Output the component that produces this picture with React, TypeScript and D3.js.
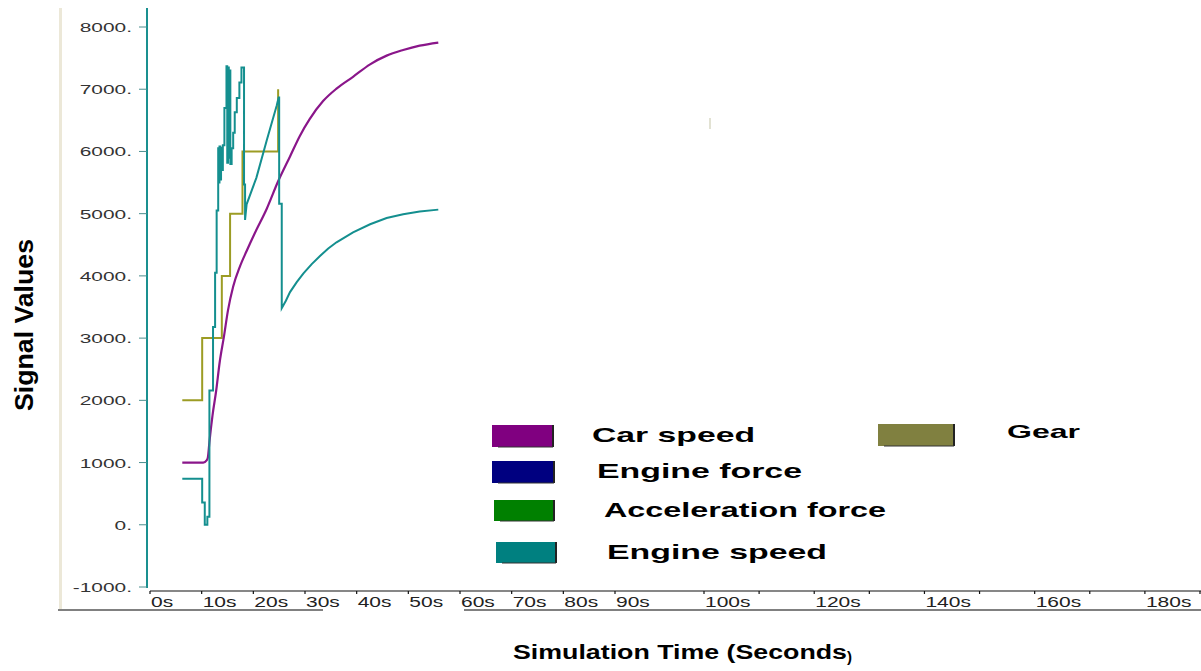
import React, { useEffect, useRef } from "react";
import * as d3 from "d3";

// time ticks (seconds) and value ticks
const TIME_TICKS = [0, 10, 20, 30, 40, 50, 60, 70, 80, 90, 100, 120, 140, 160, 180];
const MINOR_TIME_TICKS = [110, 130, 150, 170, 190];
const VALUE_TICKS = [-1000, 0, 1000, 2000, 3000, 4000, 5000, 6000, 7000, 8000];

// series: [time s, value]
const gear: [number, number][] = [
  [6.25, 2000], [10.1, 3000], [13.9, 4000], [15.5, 5000], [17.9, 6000], [24.8, 7000], [24.8, 7000],
];

const carSpeed: [number, number][] = [
  [6.25, 1000], [10.3, 1000], [11.0, 1040], [11.2, 1080], [11.5, 1330], [12.1, 1760],
  [12.8, 2150], [13.5, 2620], [14.3, 3020], [15.1, 3450], [16.1, 3830], [17.4, 4150],
  [18.7, 4400], [20.3, 4690], [22.6, 5080], [24.8, 5520], [27.1, 5920],
  [29.0, 6250], [30.9, 6520], [33.5, 6810], [36.1, 7010], [39.3, 7200], [42.6, 7400],
  [45.8, 7540], [49.0, 7630], [52.2, 7700], [55.8, 7750],
];

const engineSpeed: [number, number][] = [
  [6.25, 740], [10.1, 740], [10.1, 360], [10.6, 360], [10.6, 0], [11.1, 0], [11.1, 130],
  [11.5, 130], [11.5, 2160], [12.2, 2160], [12.2, 3180], [12.6, 3180], [12.6, 4050],
  [12.9, 4050], [12.9, 5050], [13.2, 5050], [13.2, 6050], [13.3, 6050], [13.3, 5500],
  [13.45, 5500], [13.45, 6080], [13.6, 6080], [13.6, 5550], [13.75, 5550], [13.75, 6060],
  [13.9, 6060], [13.9, 5700], [14.1, 5700], [14.1, 6100], [14.4, 6100], [14.4, 6700],
  [14.8, 6700], [14.8, 7370], [14.95, 7370], [14.95, 5820], [15.1, 5820], [15.1, 7350],
  [15.25, 7350], [15.25, 5900], [15.4, 5900], [15.4, 7300], [15.55, 7300], [15.55, 5800],
  [15.8, 5800], [15.8, 6050], [16.1, 6050], [16.1, 6300], [16.4, 6300], [16.4, 6630],
  [16.8, 6630], [16.8, 6860], [17.3, 6860], [17.3, 7110], [17.7, 7110], [17.7, 7350],
  [18.2, 7350], [18.2, 5470], [18.4, 5470], [18.4, 4900], [18.7, 5150], [20.6, 5580],
  [22.6, 6180], [24.5, 6730], [24.9, 6865], [25.0, 6865], [25.0, 5160], [25.5, 5160],
  [25.5, 3480], [26.3, 3600], [27.1, 3740], [28.4, 3900], [29.7, 4040], [31.3, 4190],
  [32.9, 4320], [34.5, 4440], [36.1, 4540], [39.3, 4700], [42.6, 4830], [45.8, 4930],
  [49.0, 4990], [52.2, 5035], [55.8, 5065],
];

const LEGEND_NAMES = ["Car speed", "Engine force", "Acceleration force", "Engine speed", "Gear"];
const LEGEND_COLORS = ["#800080", "#000080", "#008000", "#008080", "#808040"];

const App = () => {
  const ref = useRef<SVGSVGElement>(null);

  useEffect(() => {
    const svg = d3.select(ref.current);
    svg.selectAll("*").remove();

    const width = 1201;
    const height = 671;
    svg.attr("width", width).attr("height", height);

    // the time axis is stitched: 0-90s and 100-190s use different spacing
    const x = d3.scaleLinear().domain([0, 90, 100, 190]).range([150, 615, 704, 1200]);
    const y = d3.scaleLinear().domain([-1000, 8000]).range([587, 27]);

    svg.append("rect").attr("width", width).attr("height", height).attr("fill", "#fff");

    // frame bits
    svg.append("rect").attr("x", 59).attr("y", 8).attr("width", 3).attr("height", 603).attr("fill", "#ece8d8");
    svg.append("line").attr("x1", 58).attr("x2", 323).attr("y1", 610).attr("y2", 610)
      .attr("stroke", "#808080").attr("stroke-width", 2);
    svg.append("line").attr("x1", 464).attr("x2", width).attr("y1", 610).attr("y2", 610)
      .attr("stroke", "#808080").attr("stroke-width", 2);

    // y axis
    svg.append("line").attr("x1", 147).attr("x2", 147).attr("y1", 8).attr("y2", 588)
      .attr("stroke", "#1a9090").attr("stroke-width", 2);
    const yAxis = svg.append("g");
    VALUE_TICKS.forEach((v) => {
      yAxis.append("line").attr("x1", 139).attr("x2", 147).attr("y1", y(v)).attr("y2", y(v))
        .attr("stroke", "#4a8e8e").attr("stroke-width", 1);
      yAxis.append("text")
        .attr("transform", `translate(132,${y(v) + 5}) scale(1.55,1)`)
        .attr("text-anchor", "end")
        .style("font-family", "'Liberation Sans', Arial, sans-serif")
        .style("font-size", "13.5px")
        .attr("fill", "#333")
        .text(`${v}.`);
    });

    // x axis
    svg.append("line").attr("x1", 150).attr("x2", width).attr("y1", 591).attr("y2", 591)
      .attr("stroke", "#111").attr("stroke-width", 1.2);
    const xAxis = svg.append("g");
    [...TIME_TICKS, ...MINOR_TIME_TICKS].forEach((t) => {
      xAxis.append("line").attr("x1", x(t)).attr("x2", x(t)).attr("y1", 591).attr("y2", 594)
        .attr("stroke", "#111").attr("stroke-width", 1.2);
    });
    TIME_TICKS.forEach((t) => {
      xAxis.append("text")
        .attr("transform", `translate(${x(t) + 1},607) scale(1.5,1)`)
        .style("font-family", "'Liberation Sans', Arial, sans-serif")
        .style("font-size", "14px")
        .attr("fill", "#222")
        .text(`${t}s`);
    });

    // series
    const linear = d3.line<[number, number]>().x((d) => x(d[0])).y((d) => y(d[1]));
    const stepped = d3.line<[number, number]>().x((d) => x(d[0])).y((d) => y(d[1])).curve(d3.curveStepAfter);
    const smooth = d3.line<[number, number]>().x((d) => x(d[0])).y((d) => y(d[1])).curve(d3.curveMonotoneX);

    svg.append("path").datum(gear).attr("d", stepped)
      .attr("fill", "none").attr("stroke", "#9c9c24").attr("stroke-width", 2);
    svg.append("path").datum(carSpeed).attr("d", smooth)
      .attr("fill", "none").attr("stroke", "#8a168a").attr("stroke-width", 2.2);
    svg.append("path").datum(engineSpeed).attr("d", linear)
      .attr("fill", "none").attr("stroke", "#148f8f").attr("stroke-width", 2);

    // small cursor mark
    svg.append("line").attr("x1", 710).attr("x2", 710).attr("y1", 118).attr("y2", 129)
      .attr("stroke", "#d8d8c4").attr("stroke-width", 1.5);

    // legend
    const legendLayout = [
      { sx: 492, sy: 425, sw: 61, sh: 22, tx: 592, ty: 442, tw: 163 },
      { sx: 492, sy: 461, sw: 62, sh: 22, tx: 597, ty: 478, tw: 205 },
      { sx: 494, sy: 500, sw: 60, sh: 21, tx: 604, ty: 517, tw: 282 },
      { sx: 496, sy: 542, sw: 60, sh: 21, tx: 607, ty: 559, tw: 220 },
      { sx: 878, sy: 424, sw: 76, sh: 22, tx: 1007, ty: 438, tw: 73 },
    ];
    LEGEND_NAMES.forEach((name, i) => {
      const l = legendLayout[i];
      const g = svg.append("g");
      g.append("rect").attr("x", l.sx).attr("y", l.sy).attr("width", l.sw).attr("height", l.sh)
        .attr("fill", LEGEND_COLORS[i]);
      g.append("line").attr("x1", l.sx + l.sw).attr("x2", l.sx + l.sw).attr("y1", l.sy).attr("y2", l.sy + l.sh)
        .attr("stroke", "#222").attr("stroke-width", 2);
      g.append("line").attr("x1", l.sx + 6).attr("x2", l.sx + l.sw).attr("y1", l.sy + l.sh).attr("y2", l.sy + l.sh)
        .attr("stroke", "#333").attr("stroke-width", 1);
      g.append("text")
        .attr("x", l.tx).attr("y", l.ty)
        .attr("textLength", l.tw).attr("lengthAdjust", "spacingAndGlyphs")
        .style("font-family", "'Liberation Sans', Arial, sans-serif")
        .style("font-size", i === 4 ? "19px" : "21px")
        .style("font-weight", "bold")
        .attr("fill", "#000")
        .text(name);
    });

    // axis titles
    svg.append("text")
      .attr("transform", "translate(33,325) rotate(-90)")
      .attr("text-anchor", "middle")
      .attr("textLength", 172).attr("lengthAdjust", "spacingAndGlyphs")
      .style("font-family", "'Liberation Sans', Arial, sans-serif")
      .style("font-size", "26px").style("font-weight", "bold")
      .text("Signal Values");

    svg.append("text")
      .attr("x", 513).attr("y", 659)
      .attr("textLength", 334).attr("lengthAdjust", "spacingAndGlyphs")
      .style("font-family", "'Liberation Sans', Arial, sans-serif")
      .style("font-size", "20px").style("font-weight", "bold")
      .text("Simulation Time (Seconds");
    svg.append("text")
      .attr("x", 847).attr("y", 662)
      .style("font-family", "'Liberation Sans', Arial, sans-serif")
      .style("font-size", "15px").style("font-weight", "bold")
      .text(")");
  }, []);

  return (
    <svg ref={ref} style={{ position: "absolute", left: 0, top: 0, display: "block" }} />
  );
};

export default App;
